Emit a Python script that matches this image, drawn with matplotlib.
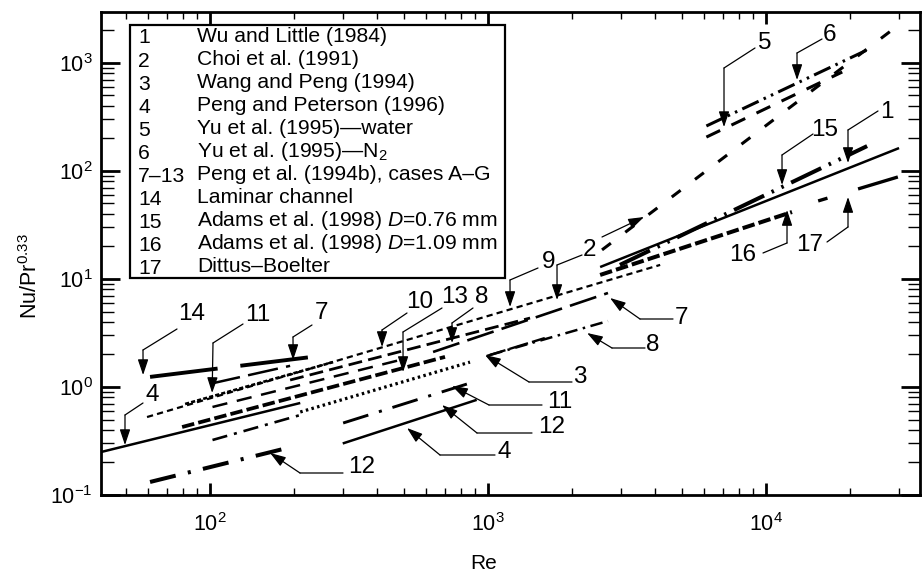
import matplotlib as mpl
from matplotlib import pyplot as plt
from matplotlib.patches import Rectangle

plt.rcParams['font.family'] = ['Liberation Sans', 'DejaVu Sans']
plt.rcParams['mathtext.fontset'] = 'custom'
plt.rcParams['mathtext.rm'] = 'Liberation Sans'
plt.rcParams['mathtext.it'] = 'Liberation Sans:italic'
plt.rcParams['mathtext.bf'] = 'Liberation Sans:bold'
plt.rcParams['lines.scale_dashes'] = False

# Legend entries
legend_nums = ['1', '2', '3', '4', '5', '6', '7\u201313', '14', '15', '16', '17']
legend_text = ['Wu and Little (1984)',
               'Choi et al. (1991)',
               'Wang and Peng (1994)',
               'Peng and Peterson (1996)',
               'Yu et al. (1995)\u2014water',
               'Yu et al. (1995)\u2014N$_2$',
               'Peng et al. (1994b), cases A\u2013G',
               'Laminar channel',
               'Adams et al. (1998) $D$=0.76 mm',
               'Adams et al. (1998) $D$=1.09 mm',
               'Dittus\u2013Boelter']

# Correlation segments (straight lines on log-log): Re range and Nu/Pr^0.33 at both ends
seg_names = ['1', '2', '3', '4a', '4b', '5', '6', '7t', '8t', '9', '10',
             '11a', '11b', '11c', '12a', '12b', '13', '13d', '7l', '14',
             '15', '16', '17']
re_start = [2530, 2570, 990, 40, 300, 6100, 6100, 634, 1017, 59.3, 194,
            81.3, 100, 301, 60.8, 102, 79.3, 211, 102, 60.8,
            2980, 2530, 15400]
re_end = [30100, 28400, 1600, 211, 910, 18800, 23100, 2700, 2700, 4160, 1416,
          277, 194, 883, 189, 211, 700, 861, 483, 233,
          23100, 12400, 29800]
nu_start = [12.9, 18.6, 1.94, 0.248, 0.30, 206, 261, 2.11, 1.98, 0.527, 1.16,
            0.696, 1.07, 0.464, 0.132, 0.323, 0.426, 0.587, 0.653, 1.24,
            13.5, 10.9, 52.8]
nu_end = [163, 2020, 2.84, 0.711, 0.76, 825, 1320, 7.42, 4.08, 13.5, 4.35,
          1.70, 1.57, 1.11, 0.272, 0.550, 1.90, 1.70, 1.78, 1.90,
          170, 41.7, 88.0]

# line styles (width in pt, dash pattern in pt, None = solid)
seg_width = [1.8, 2.2, 1.7, 1.8, 1.8, 2.2, 2.2, 1.9, 1.8, 1.6, 2.0,
             1.9, 1.8, 2.1, 2.9, 1.9, 2.7, 2.3, 1.8, 2.8,
             2.9, 2.9, 2.4]
seg_dash = [None, (8, 13), (14, 3), None, None, (11, 9), (13, 4, 1.8, 4, 1.8, 4),
            (20, 6), (9, 4, 1.8, 4), (4.5, 3), (10, 4.5),
            (3, 1.5), (22, 6), (19, 8, 2.2, 8), (19, 9, 2.2, 9), (11, 5, 2.2, 5),
            (9, 3), (1.8, 2.4), (11, 7), (49, 16.5),
            (24, 6, 1.8, 6, 1.8, 6), (9, 3), (7, 23, 30, 8)]

# Curve labels: text, text centre (px from top-left), leader start, leader bend, arrow tip (Re, Nu)
lab_text = ['14', '4', '11', '7', '10', '13', '8', '9', '2', '', '5', '6',
            '15', '1', '16', '17', '7', '8', '3', '11', '12', '4', '12']
lab_pos = [(192, 314), (152, 395), (258, 315), (322, 313), (420, 302), (455, 297),
           (482, 297), (549, 262), (590, 250), (0, 0), (765, 43), (830, 35),
           (825, 130), (887, 112), (743, 255), (810, 245), (682, 318), (653, 345),
           (580, 377), (560, 402), (552, 427), (504, 452), (362, 467)]
lead_start = [(177, 329), (143, 403), (243, 324), (312, 325), (407, 313), (442, 308),
              (473, 308), (538, 268), (582, 255), (602, 237), (755, 48), (822, 39),
              (813, 134), (878, 111), (763, 253), (827, 242), (673, 319), (645, 348),
              (572, 382), (542, 405), (532, 433), (495, 455), (343, 473)]
lead_bend = [(143, 350), (125, 415), (213, 343), (293, 337), (382, 330), (403, 332),
             (452, 323), (510, 280), (557, 265), None, (724, 68), (797, 53),
             (782, 155), (848, 130), (787, 243), (848, 227), (640, 319), (612, 348),
             (529, 382), (489, 405), (477, 433), (440, 455), (300, 473)]
tip_re = [57.4, 49.4, 101.7, 198.9, 415.6, 494.6, 742.2, 1200, 1771, 3640, 7060, 12930,
          11420, 19720, 11900, 19720, 2747, 2271, 975, 742, 683, 511, 164.4]
tip_nu = [1.29, 0.290, 0.880, 1.778, 2.346, 1.377, 2.555, 5.506, 6.39, 37.5, 255, 696,
          74.2, 118.6, 43.5, 57.4, 6.67, 3.162, 1.978, 1.022, 0.681, 0.417, 0.245]

W, H = 924, 579
fig = plt.figure(figsize=(W / 100, H / 100), dpi=100)
ax = fig.add_axes([101 / W, 84 / H, 819 / W, 483 / H])
ax.set_xscale('log')
ax.set_yscale('log')
ax.set_xlim(40.5, 35800)
ax.set_ylim(0.1, 2965)

for i in range(len(seg_names)):
    if seg_dash[i] is None:
        ax.plot([re_start[i], re_end[i]], [nu_start[i], nu_end[i]],
                color='black', lw=seg_width[i], solid_capstyle='butt')
    else:
        ax.plot([re_start[i], re_end[i]], [nu_start[i], nu_end[i]],
                color='black', lw=seg_width[i], dashes=seg_dash[i])

# labels with bent leaders
for i in range(len(lab_text)):
    if lab_text[i]:
        fig.text(lab_pos[i][0] / W, 1 - lab_pos[i][1] / H, lab_text[i],
                 ha='center', va='center', fontsize=17.5)
    s = (lead_start[i][0], H - lead_start[i][1])
    if lead_bend[i] is not None:
        b = (lead_bend[i][0], H - lead_bend[i][1])
        ax.annotate('', xy=b, xycoords='figure pixels', xytext=s,
                    textcoords='figure pixels',
                    arrowprops=dict(arrowstyle='-', lw=0.9, color='black',
                                    shrinkA=0, shrinkB=0))
    else:
        b = s
    ax.annotate('', xy=(tip_re[i], tip_nu[i]), xycoords='data', xytext=b,
                textcoords='figure pixels',
                arrowprops=dict(arrowstyle='-|>,head_length=0.95,head_width=0.32',
                                lw=0.9, color='black', shrinkA=0, shrinkB=0,
                                mutation_scale=10))

# legend box
ax.add_patch(Rectangle((0.0354, 0.4493), 0.4579, 0.5238, transform=ax.transAxes,
                       facecolor='white', edgecolor='black', lw=1.6, zorder=5))
for i in range(len(legend_nums)):
    yy = 0.9503 - i * 0.0478
    ax.text(0.0452, yy - 0.004, legend_nums[i], transform=ax.transAxes,
            ha='left', va='center', fontsize=15.2, zorder=6)
    ax.text(0.1172, yy, legend_text[i], transform=ax.transAxes,
            ha='left', va='center', fontsize=15.2, zorder=6)

# axes styling
for sp in ax.spines.values():
    sp.set_linewidth(2)
ax.tick_params(which='both', direction='in', top=True, right=True, labelsize=15.5)
ax.xaxis.set_tick_params(which='major', length=8.5, width=2, pad=13)
ax.xaxis.set_tick_params(which='minor', length=5, width=1)
ax.yaxis.set_tick_params(which='major', length=14, width=2, pad=6)
ax.yaxis.set_tick_params(which='minor', length=9, width=1)
ax.xaxis.set_minor_formatter(mpl.ticker.NullFormatter())
ax.yaxis.set_minor_formatter(mpl.ticker.NullFormatter())
ax.xaxis.set_major_locator(mpl.ticker.LogLocator(base=10, numticks=10))
ax.yaxis.set_major_locator(mpl.ticker.LogLocator(base=10, numticks=10))
ax.xaxis.set_minor_locator(mpl.ticker.LogLocator(base=10, subs=range(2, 10), numticks=20))
ax.yaxis.set_minor_locator(mpl.ticker.LogLocator(base=10, subs=range(2, 10), numticks=20))

ax.set_xlabel('Re', fontsize=15)
ax.set_ylabel('Nu/Pr$^{0.33}$', fontsize=15.5)
ax.xaxis.set_label_coords(0.4676, -0.122)
ax.yaxis.set_label_coords(-0.072, 0.453)

fig.savefig('out.png', dpi=100, facecolor='white')
